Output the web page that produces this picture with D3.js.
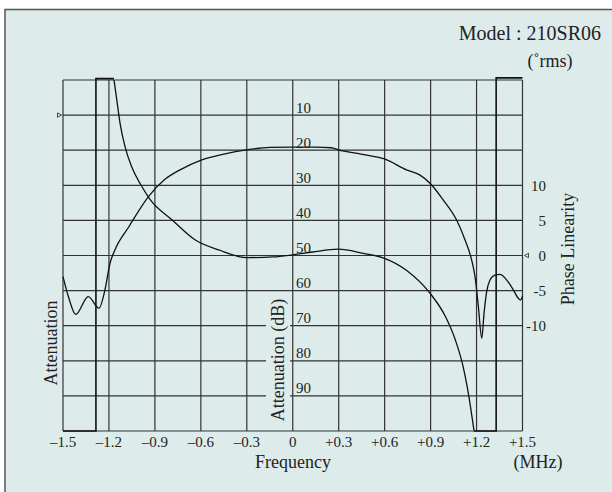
<!DOCTYPE html>
<html><head><meta charset="utf-8">
<script src="https://cdn.jsdelivr.net/npm/d3@7"></script>
<style>
body{margin:0;background:#fff;}
svg{display:block;}
text{font-family:"Liberation Serif","Times New Roman",serif;fill:#222;}
</style>
</head><body><svg id="c" width="612" height="492"></svg>
<script>
// ---- data ----
const freqTicks = [-1.5,-1.2,-0.9,-0.6,-0.3,0,0.3,0.6,0.9,1.2,1.5];
const freqTickLabels = ["–1.5","–1.2","–0.9","–0.6","–0.3","0","+0.3","+0.6","+0.9","+1.2","+1.5"];
const attGrid = [0,10,20,30,40,50,60,70,80,90,100];
const attTickLabels = [10,20,30,40,50,60,70,80,90];
const phaseTicks = [10,5,0,-5,-10];
const phaseTickLabels = ["10","5","0","-5","-10"];

const attFreq = [-1.5,-1.465,-1.417,-1.335,-1.265,-1.226,-1.193,-1.161,-1.07,-0.942,-0.84,-0.736,-0.598,-0.449,-0.302,-0.149,0,0.145,0.252,0.297,0.446,0.599,0.742,0.831,0.896,0.983,1.07,1.125,1.168,1.19,1.212,1.234,1.249,1.266,1.288,1.32,1.353,1.397,1.44,1.471,1.487,1.5];
const attValues = [56,61.7,66.8,61.7,65,59.8,52.2,48.4,41.8,33.2,28.5,25.6,22.8,21.1,19.9,19.2,19.1,19.1,19.3,19.9,21.1,22.5,25.6,27.1,29.4,34.2,39.9,45.6,51.3,56,64.6,73.6,66.4,60.3,57,55.6,55.4,57,59.8,62.1,62.7,61.5];

const phaseFreq = [-1.167,-1.149,-1.128,-1.095,-1.051,-0.99,-0.932,-0.789,-0.636,-0.483,-0.302,-0.126,0,0.129,0.297,0.461,0.599,0.742,0.897,0.997,1.061,1.112,1.15,1.183];
const phaseValues = [25,22.2,18.9,15.5,12.6,10.0,8.0,5.1,2.2,0.8,-0.3,-0.2,0.1,0.5,0.9,0.3,-0.4,-2.1,-5.4,-8.7,-12.0,-15.8,-20.1,-24.9];

const maskLeftFreq = [-1.5,-1.285,-1.285,-1.167];
const maskLeftAtt = [100,100,-0.4,-0.4];
const maskRightFreq = [1.183,1.328,1.328,1.5];
const maskRightAtt = [100,100,-0.6,-0.6];

// ---- drawing ----
const bg = "#ddeceb";
const svg = d3.select("#c");
const x = d3.scaleLinear().domain([-1.5,1.5]).range([63,522.5]);
const yAtt = d3.scaleLinear().domain([0,100]).range([80,431]);
const yPh = d3.scaleLinear().domain([25,-25]).range([80,431]);

svg.append("rect").attr("x",5).attr("y",9.5).attr("width",640).attr("height",520)
  .attr("fill",bg).attr("stroke","#555").attr("stroke-width",1.5);

const grid = svg.append("g").attr("stroke","#333").attr("stroke-width",1.2);
grid.selectAll(".v").data(freqTicks).join("line")
  .attr("x1",d=>x(d)).attr("x2",d=>x(d)).attr("y1",yAtt(0)).attr("y2",yAtt(100));
grid.selectAll(".h").data(attGrid).join("line")
  .attr("x1",x(-1.5)).attr("x2",x(1.5)).attr("y1",d=>yAtt(d)).attr("y2",d=>yAtt(d));

// background behind rotated label
svg.append("rect").attr("x",266).attr("y",296).attr("width",24).attr("height",128).attr("fill",bg);
svg.append("text").attr("transform","translate(284,360) rotate(-90)").attr("text-anchor","middle")
  .attr("font-size",18).text("Attenuation (dB)");

// attenuation labels
svg.selectAll(".al").data(attTickLabels).join("text")
  .attr("x",296).attr("y",d=>yAtt(d)-2.5).attr("font-size",15).attr("fill","#333").text(d=>d);

// phase labels
svg.selectAll(".pl").data(phaseTicks).join("text")
  .attr("x",546).attr("y",d=>yPh(d)).attr("dy","0.35em").attr("text-anchor","end")
  .attr("font-size",15).attr("fill","#333").text((d,i)=>phaseTickLabels[i]);

// x tick labels
svg.selectAll(".xl").data(freqTicks).join("text")
  .attr("x",d=>x(d)).attr("y",447).attr("text-anchor","middle").attr("font-size",15)
  .attr("fill","#333").text((d,i)=>freqTickLabels[i]);

// clip
svg.append("clipPath").attr("id","pc").append("rect").attr("x",60).attr("y",76).attr("width",466).attr("height",357);
const plot = svg.append("g").attr("clip-path","url(#pc)");

const lineAtt = d3.line().x(d=>x(d[0])).y(d=>yAtt(d[1])).curve(d3.curveMonotoneX);
const linePh = d3.line().x(d=>x(d[0])).y(d=>yPh(d[1])).curve(d3.curveMonotoneX);
const lineMask = d3.line().x(d=>x(d[0])).y(d=>yAtt(d[1]));

plot.append("path").datum(attFreq.map((f,i)=>[f,attValues[i]])).attr("d",lineAtt)
  .attr("fill","none").attr("stroke","#111").attr("stroke-width",1.3);
plot.append("path").datum(phaseFreq.map((f,i)=>[f,phaseValues[i]])).attr("d",linePh)
  .attr("fill","none").attr("stroke","#111").attr("stroke-width",1.3);
plot.append("path").datum(maskLeftFreq.map((f,i)=>[f,maskLeftAtt[i]])).attr("d",lineMask)
  .attr("fill","none").attr("stroke","#111").attr("stroke-width",1.6);
plot.append("path").datum(maskRightFreq.map((f,i)=>[f,maskRightAtt[i]])).attr("d",lineMask)
  .attr("fill","none").attr("stroke","#111").attr("stroke-width",1.6);

// markers
svg.append("path").attr("d",`M57.5,${yAtt(10)-2.2}L61.5,${yAtt(10)}L57.5,${yAtt(10)+2.2}Z`)
  .attr("fill","none").attr("stroke","#333").attr("stroke-width",0.9);
svg.append("path").attr("d",`M528.5,${yPh(0)-2.2}L524.5,${yPh(0)}L528.5,${yPh(0)+2.2}Z`)
  .attr("fill","none").attr("stroke","#333").attr("stroke-width",0.9);

// titles
svg.append("text").attr("x",601).attr("y",39.5).attr("text-anchor","end").attr("font-size",20).text("Model : 210SR06");
svg.append("text").attr("x",550).attr("y",67).attr("text-anchor","middle").attr("font-size",18).text("(˚rms)");
svg.append("text").attr("x",293).attr("y",467.5).attr("text-anchor","middle").attr("font-size",18).text("Frequency");
svg.append("text").attr("x",538).attr("y",467.5).attr("text-anchor","middle").attr("font-size",18).text("(MHz)");
svg.append("text").attr("transform","translate(56.5,343) rotate(-90)").attr("text-anchor","middle")
  .attr("font-size",18).text("Attenuation");
svg.append("text").attr("transform","translate(573.5,249) rotate(-90)").attr("text-anchor","middle")
  .attr("font-size",18).text("Phase Linearity");
</script>
</body></html>
